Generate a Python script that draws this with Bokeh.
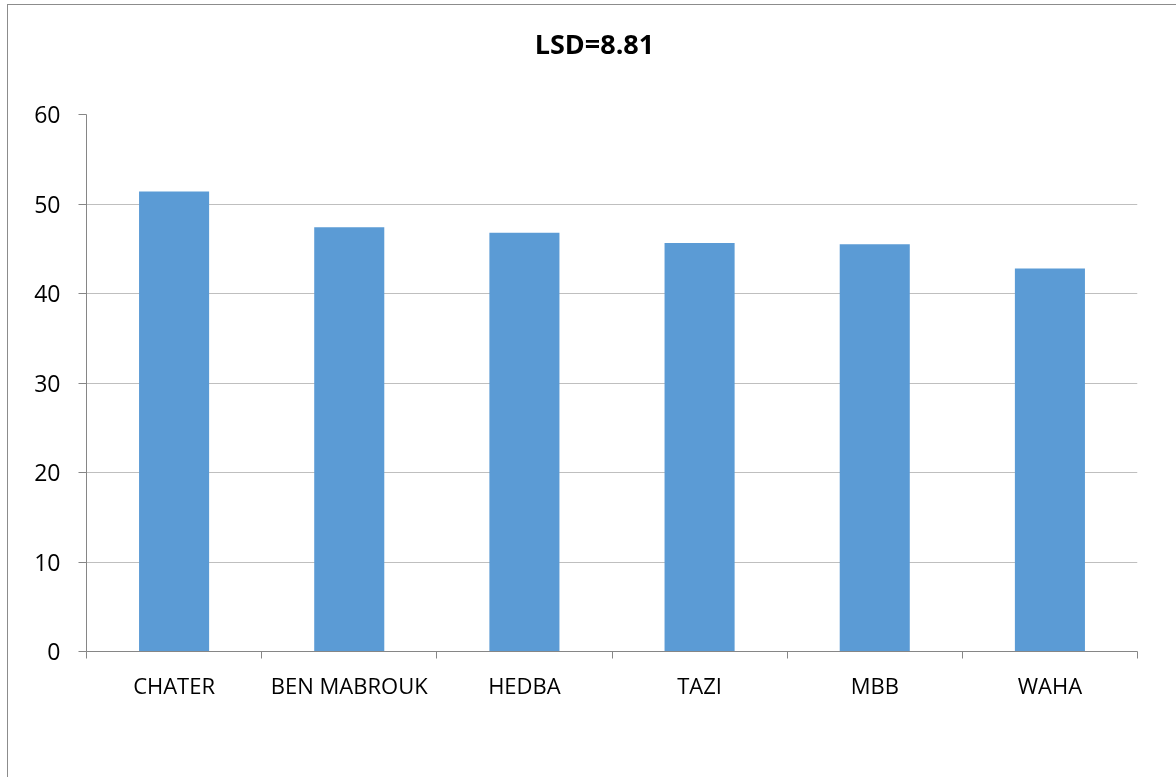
from bokeh.plotting import figure
from bokeh.models import FixedTicker, ColumnDataSource, Range1d, LinearAxis
from bokeh.embed import file_html
from bokeh.resources import INLINE

categories = ["CHATER", "BEN MABROUK", "HEDBA", "TAZI", "MBB", "WAHA"]
values = [51.4, 47.4, 46.8, 45.65, 45.5, 42.8]
y_ticks = [0, 10, 20, 30, 40, 50, 60]
title_text = "LSD=8.81"

FONT = "Open Sans"
AXIS_GRAY = "#868686"
GRID_GRAY = "#bfbfbf"
BAR_BLUE = "#5b9bd5"
TITLE_POS = 2.9  # horizontal centre of the title, in category units

xs = [i + 0.5 for i in range(len(categories))]
src = ColumnDataSource(dict(x=xs, top=values, cat=categories))

p = figure(width=1200, height=800, output_backend="svg", toolbar_location=None,
           x_range=Range1d(0, len(categories)), y_range=Range1d(0, 60),
           min_border_left=78, min_border_right=71, min_border_top=109, min_border_bottom=154)

# outer chart frame; its right and bottom edges fall outside the window
p.styles = {"position": "fixed", "left": "7px", "top": "4px",
            "border-left": "1px solid #8c8c8c", "border-top": "1px solid #8c8c8c",
            "border-right": "none", "border-bottom": "none"}

p.vbar(x="x", top="top", bottom=0, width=0.4, source=src, fill_color=BAR_BLUE, line_color=None)

# chart title drawn as the single label of a bare top axis
title_axis = LinearAxis(ticker=FixedTicker(ticks=[TITLE_POS]),
                        major_label_overrides={TITLE_POS: title_text})
title_axis.axis_line_color = None
title_axis.major_tick_line_color = None
title_axis.minor_tick_line_color = None
title_axis.major_tick_out = 0
title_axis.major_tick_in = 0
title_axis.major_label_standoff = 53
title_axis.major_label_text_font = FONT
title_axis.major_label_text_font_size = "27px"
title_axis.major_label_text_font_style = "bold"
title_axis.major_label_text_color = "black"
p.add_layout(title_axis, "above")

p.outline_line_color = None
p.background_fill_color = "white"
p.border_fill_color = "white"

# y axis
p.yaxis.ticker = FixedTicker(ticks=y_ticks)
p.yaxis.axis_line_color = AXIS_GRAY
p.yaxis.major_tick_line_color = AXIS_GRAY
p.yaxis.major_tick_out = 8
p.yaxis.major_tick_in = 0
p.yaxis.minor_tick_line_color = None
p.yaxis.major_label_standoff = 18
p.yaxis.major_label_text_font = FONT
p.yaxis.major_label_text_font_size = "23px"
p.yaxis.major_label_text_color = "black"

# x axis: labels at centers, ticks at boundaries
xaxis = p.below[0]
xaxis.ticker = FixedTicker(ticks=xs, minor_ticks=list(range(len(categories) + 1)))
xaxis.major_label_overrides = {x: c for x, c in zip(xs, categories)}
xaxis.axis_line_color = AXIS_GRAY
xaxis.major_tick_line_color = None
xaxis.major_tick_out = 0
xaxis.major_tick_in = 0
xaxis.minor_tick_line_color = AXIS_GRAY
xaxis.minor_tick_out = 7
xaxis.minor_tick_in = 0
xaxis.major_label_standoff = 11
xaxis.major_label_text_font = FONT
xaxis.major_label_text_font_size = "22px"
xaxis.major_label_text_color = "black"

p.xgrid.grid_line_color = None
p.ygrid.grid_line_color = GRID_GRAY
p.ygrid.grid_line_width = 1

open("out.html", "w").write(file_html(p, INLINE))
